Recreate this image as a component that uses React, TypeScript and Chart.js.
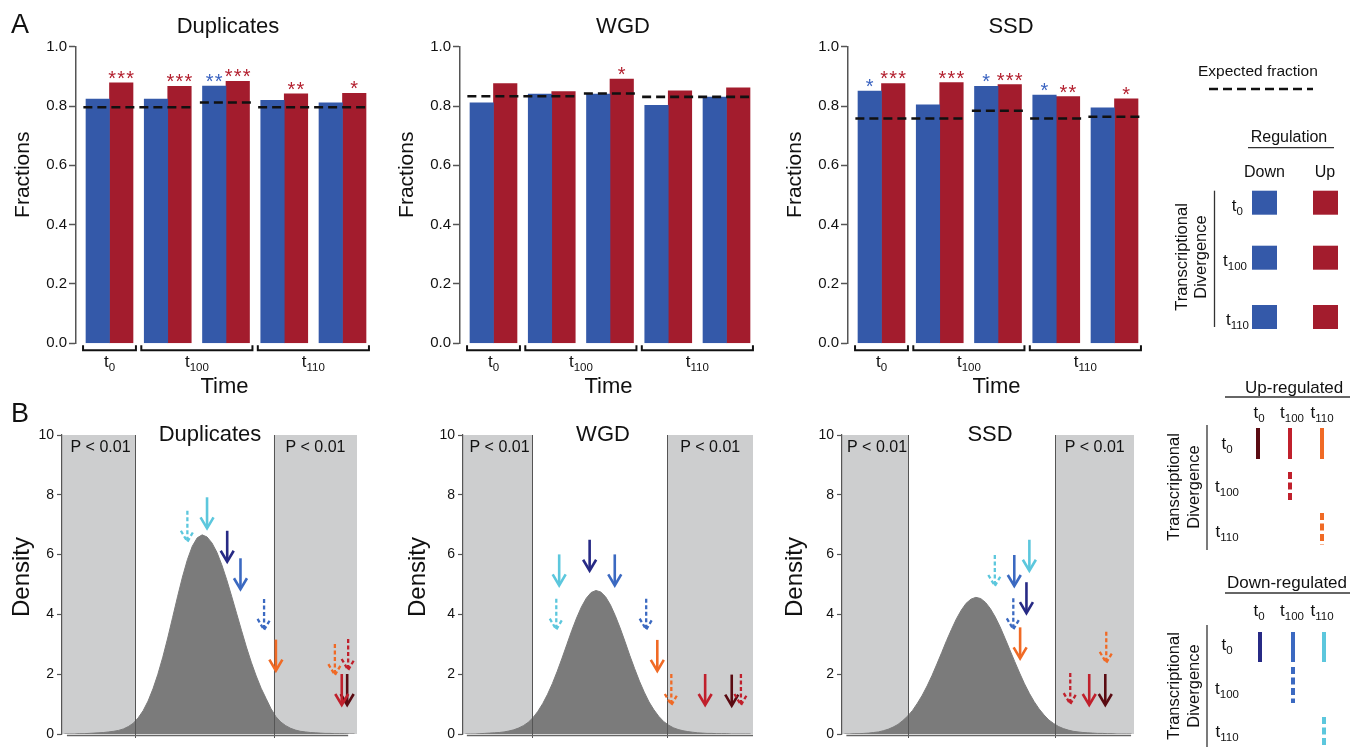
import React, { useEffect, useRef } from 'react';
import { Chart, registerables } from 'chart.js';

Chart.register(...registerables);

const FONT = '"Liberation Sans", Arial, Helvetica, sans-serif';
Chart.defaults.font.family = FONT;

// ---------------- Panel A data ----------------
const groupPositions = [0, 1, 2, 3, 4];
const timeSubscripts = ['0', '100', '110'];
const timeFirstGroup = [0, 1, 3];
const timeLastGroup = [0, 2, 4];

const dupDown = [0.823, 0.823, 0.867, 0.819, 0.811];
const dupUp = [0.878, 0.866, 0.883, 0.841, 0.843];
const dupExpected = [0.796, 0.796, 0.812, 0.796, 0.796];
const dupStarsDown = ['', '', '**', '', ''];
const dupStarsUp = ['***', '***', '***', '**', '*'];

const wgdDown = [0.811, 0.84, 0.84, 0.802, 0.83];
const wgdUp = [0.876, 0.849, 0.891, 0.851, 0.861];
const wgdExpected = [0.833, 0.833, 0.842, 0.831, 0.831];
const wgdStarsDown = ['', '', '', '', ''];
const wgdStarsUp = ['', '', '*', '', ''];

const ssdDown = [0.85, 0.804, 0.866, 0.837, 0.794];
const ssdUp = [0.876, 0.879, 0.872, 0.832, 0.824];
const ssdExpected = [0.758, 0.758, 0.784, 0.758, 0.764];
const ssdStarsDown = ['*', '', '*', '*', ''];
const ssdStarsUp = ['***', '***', '***', '**', '*'];

// ---------------- Panel B data ----------------
const binCount = 60;
const dupDensity = [
  0, 0, 0, 0.01, 0.01, 0.02, 0.03, 0.04, 0.05, 0.07,
  0.09, 0.12, 0.17, 0.25, 0.36, 0.54, 0.78, 1.1, 1.51, 2.0,
  2.57, 3.21, 3.9, 4.59, 5.25, 5.83, 6.28, 6.56, 6.66, 6.59,
  6.39, 6.08, 5.66, 5.16, 4.61, 4.04, 3.47, 2.91, 2.4, 1.94,
  1.53, 1.19, 0.85, 0.58, 0.4, 0.28, 0.19, 0.13, 0.09, 0.07,
  0.05, 0.04, 0.03, 0.02, 0.02, 0.01, 0.01, 0.01, 0, 0,
];
const wgdDensity = [
  0, 0, 0, 0.01, 0.02, 0.03, 0.04, 0.05, 0.07, 0.1,
  0.14, 0.2, 0.28, 0.39, 0.55, 0.76, 1.02, 1.33, 1.69, 2.1,
  2.54, 3.0, 3.46, 3.88, 4.25, 4.54, 4.73, 4.8, 4.75, 4.59,
  4.32, 3.96, 3.55, 3.1, 2.63, 2.19, 1.77, 1.4, 1.07, 0.81,
  0.59, 0.42, 0.3, 0.21, 0.15, 0.11, 0.08, 0.06, 0.04, 0.03,
  0.02, 0.02, 0.01, 0.01, 0.01, 0, 0, 0, 0, 0,
];
const ssdDensity = [
  0, 0, 0.01, 0.01, 0.02, 0.03, 0.05, 0.07, 0.11, 0.16,
  0.23, 0.32, 0.45, 0.6, 0.79, 1.03, 1.3, 1.61, 1.96, 2.34,
  2.73, 3.13, 3.5, 3.85, 4.14, 4.37, 4.51, 4.57, 4.53, 4.4,
  4.19, 3.91, 3.58, 3.2, 2.81, 2.42, 2.04, 1.68, 1.36, 1.08,
  0.84, 0.64, 0.47, 0.35, 0.25, 0.18, 0.13, 0.09, 0.07, 0.05,
  0.04, 0.03, 0.02, 0.02, 0.01, 0.01, 0, 0, 0, 0,
];
const dupCritical = [14.85, 43.1];
const wgdCritical = [14.28, 42.3];
const ssdCritical = [13.57, 43.83];

// arrow kinds: up t0/t0, up t0/t100, up t0/t110, up t100/t100, up t110/t110,
//              down t0/t0, down t0/t100, down t0/t110, down t100/t100, down t110/t110
const dupArrowX = [58.0, 56.9, 43.5, 58.2, 55.5, 33.6, 36.3, 29.5, 41.1, 25.5];
const dupArrowY = [0.97, 0.97, 2.12, 2.14, 1.97, 5.76, 4.84, 6.88, 3.48, 6.43];
const wgdArrowX = [55.6, 50.1, 40.2, 57.5, 43.1, 26.2, 31.4, 19.9, 37.9, 19.3];
const wgdArrowY = [0.95, 0.97, 2.11, 0.97, 0.97, 5.46, 4.97, 4.97, 3.49, 3.49];
const ssdArrowX = [54.1, 50.8, 36.6, 46.9, 54.3, 37.9, 35.4, 38.5, 35.2, 31.4];
const ssdArrowY = [0.97, 0.97, 2.53, 1.0, 2.38, 4.04, 4.95, 5.46, 3.5, 4.95];

// ---------------- styles ----------------
const BLUE = '#3459a9';
const RED = '#a31c2d';
const STAR_BLUE = '#3a63c0';
const STAR_RED = '#b3202f';
const GRAY_REGION = '#cdcecf';
const HIST = '#7b7b7b';
const TEXT = '#111';
const MAROON = '#5a0b12';
const ARROW_RED = '#c0202c';
const ORANGE = '#f06a25';
const NAVY = '#272a85';
const ARROW_BLUE = '#3b69c1';
const CYAN = '#5cc7dd';
const arrowColors = [MAROON, ARROW_RED, ORANGE, ARROW_RED, ORANGE, NAVY, ARROW_BLUE, CYAN, ARROW_BLUE, CYAN];
const arrowDashed = [false, false, false, true, true, false, false, false, true, true];

const panelsA = [
  { title: 'Duplicates', down: dupDown, up: dupUp, expected: dupExpected, starsDown: dupStarsDown, starsUp: dupStarsUp, canvasLeft: 0, titleDx: 152 },
  { title: 'WGD', down: wgdDown, up: wgdUp, expected: wgdExpected, starsDown: wgdStarsDown, starsUp: wgdStarsUp, canvasLeft: 384, titleDx: 163 },
  { title: 'SSD', down: ssdDown, up: ssdUp, expected: ssdExpected, starsDown: ssdStarsDown, starsUp: ssdStarsUp, canvasLeft: 772, titleDx: 163 },
];

const panelsB = [
  { title: 'Duplicates', density: dupDensity, critical: dupCritical, ax: dupArrowX, ay: dupArrowY, canvasLeft: 0, width: 367, titleDx: 148, labelDx: -40, axisFrom: 1.0, axisTo: 58.2 },
  { title: 'WGD', density: wgdDensity, critical: wgdCritical, ax: wgdArrowX, ay: wgdArrowY, canvasLeft: 401, width: 362, titleDx: 140, labelDx: -45, axisFrom: 0.8, axisTo: 60.0 },
  { title: 'SSD', density: ssdDensity, critical: ssdCritical, ax: ssdArrowX, ay: ssdArrowY, canvasLeft: 780, width: 364, titleDx: 148, labelDx: -47, axisFrom: 0.9, axisTo: 59.4 },
];

function drawTSub(ctx: CanvasRenderingContext2D, sub: string, cx: number, baseline: number, big: number, small: number) {
  ctx.font = `${big}px ${FONT}`;
  const w1 = ctx.measureText('t').width;
  ctx.font = `${small}px ${FONT}`;
  const w2 = ctx.measureText(sub).width;
  const x0 = cx - (w1 + w2) / 2;
  ctx.textAlign = 'left';
  ctx.textBaseline = 'alphabetic';
  ctx.font = `${big}px ${FONT}`;
  ctx.fillText('t', x0, baseline);
  ctx.font = `${small}px ${FONT}`;
  ctx.fillText(sub, x0 + w1, baseline + 4);
}

const annotateBars = (p: any) => ({
  id: 'annotateBars',
  afterDraw(chart: any) {
    const { ctx, chartArea: ca, scales } = chart;
    const xs = scales.x;
    const ys = scales.y;
    const step = xs.getPixelForValue(1) - xs.getPixelForValue(0);
    ctx.save();
    // expected fraction
    ctx.strokeStyle = TEXT;
    ctx.lineWidth = 2.6;
    ctx.setLineDash([9, 5]);
    let i = 0;
    while (i < p.expected.length) {
      let j = i;
      while (j + 1 < p.expected.length && p.expected[j + 1] === p.expected[i]) j++;
      const yv = ys.getPixelForValue(p.expected[i]);
      ctx.beginPath();
      ctx.moveTo(xs.getPixelForValue(groupPositions[i]) - step / 2 + 3, yv);
      ctx.lineTo(xs.getPixelForValue(groupPositions[j]) + step / 2 - 2, yv);
      ctx.stroke();
      i = j + 1;
    }
    ctx.setLineDash([]);
    // stars
    ctx.font = `20px ${FONT}`;
    ctx.textAlign = 'center';
    ctx.textBaseline = 'alphabetic';
    const starSets: any[] = [[0, p.starsDown, STAR_BLUE], [1, p.starsUp, STAR_RED]];
    starSets.forEach(([di, stars, color]) => {
      const meta = chart.getDatasetMeta(di);
      meta.data.forEach((bar: any, k: number) => {
        const s = stars[k];
        if (!s) return;
        ctx.fillStyle = color;
        for (let m = 0; m < s.length; m++) {
          ctx.fillText('*', bar.x + (m - (s.length - 1) / 2) * 9, bar.y + 2);
        }
      });
    });
    // brackets
    ctx.strokeStyle = TEXT;
    ctx.fillStyle = TEXT;
    ctx.lineWidth = 2;
    const half = step * 0.805 / 2;
    const yb = ca.bottom + 7;
    timeSubscripts.forEach((sub, k) => {
      const c0 = xs.getPixelForValue(groupPositions[timeFirstGroup[k]]);
      const c1 = xs.getPixelForValue(groupPositions[timeLastGroup[k]]);
      const x0 = c0 - half - 3;
      const x1 = c1 + half + 3;
      ctx.beginPath();
      ctx.moveTo(x0, yb - 5);
      ctx.lineTo(x0, yb);
      ctx.lineTo(x1, yb);
      ctx.lineTo(x1, yb - 5);
      ctx.stroke();
      drawTSub(ctx, sub, (c0 + c1) / 2, ca.bottom + 24, 17, 11.5);
    });
    // axis title Time
    ctx.font = `22px ${FONT}`;
    ctx.textAlign = 'center';
    ctx.textBaseline = 'alphabetic';
    ctx.fillText('Time', ca.left + 148.5, ca.bottom + 50);
    // title
    ctx.fillText(p.title, ca.left + p.titleDx, ca.top - 13.5);
    // y title
    ctx.save();
    ctx.translate(ca.left - 53, ca.top + 128);
    ctx.rotate(-Math.PI / 2);
    ctx.font = `21px ${FONT}`;
    ctx.textBaseline = 'middle';
    ctx.fillText('Fractions', 0, 0);
    ctx.restore();
    ctx.restore();
  },
});

function makeBarChart(canvas: HTMLCanvasElement, p: any) {
  return new Chart(canvas, {
    type: 'bar',
    data: {
      datasets: [
        { label: 'Down', data: groupPositions.map((g, i) => ({ x: g, y: p.down[i] })), backgroundColor: BLUE, barThickness: 23.5, borderWidth: 0 },
        { label: 'Up', data: groupPositions.map((g, i) => ({ x: g, y: p.up[i] })), backgroundColor: RED, barThickness: 23.5, borderWidth: 0 },
      ],
    },
    options: {
      animation: false,
      responsive: false,
      events: [],
      layout: { padding: { top: 46.7, bottom: 56.7, left: 0, right: 14 } },
      scales: {
        x: { type: 'linear', min: -0.575, max: 4.575, display: false, offset: false },
        y: {
          min: 0,
          max: 1,
          afterFit: (s: any) => { s.width = 76; },
          ticks: { stepSize: 0.2, callback: (v: any) => Number(v).toFixed(1), color: TEXT, font: { size: 15, family: FONT }, padding: 2 },
          grid: { drawOnChartArea: false, drawTicks: true, tickLength: 7, tickColor: '#555', tickWidth: 1.5 },
          border: { color: '#555', width: 1.5 },
        },
      },
      plugins: { legend: { display: false }, tooltip: { enabled: false } },
    } as any,
    plugins: [annotateBars(p)],
  } as any);
}

const annotateHist = (p: any) => ({
  id: 'annotateHist',
  beforeDraw(chart: any) {
    const { ctx, chartArea: ca, scales } = chart;
    const x = scales.x;
    ctx.save();
    ctx.fillStyle = GRAY_REGION;
    const a = x.getPixelForValue(0);
    const b = x.getPixelForValue(p.critical[0]);
    const c = x.getPixelForValue(p.critical[1]);
    const d = x.getPixelForValue(binCount);
    ctx.fillRect(a, ca.top, b - a, ca.bottom - ca.top);
    ctx.fillRect(c, ca.top, d - c, ca.bottom - ca.top);
    ctx.restore();
  },
  afterDraw(chart: any) {
    const { ctx, chartArea: ca, scales } = chart;
    const x = scales.x;
    const y = scales.y;
    ctx.save();
    // critical lines
    ctx.strokeStyle = '#555';
    ctx.lineWidth = 1;
    p.critical.forEach((v: number) => {
      const px = Math.round(x.getPixelForValue(v)) + 0.5;
      ctx.beginPath();
      ctx.moveTo(px, ca.top);
      ctx.lineTo(px, ca.bottom + 4);
      ctx.stroke();
    });
    // x axis line
    ctx.strokeStyle = '#666';
    ctx.lineWidth = 1.5;
    ctx.beginPath();
    ctx.moveTo(x.getPixelForValue(p.axisFrom), ca.bottom + 1.5);
    ctx.lineTo(x.getPixelForValue(p.axisTo), ca.bottom + 1.5);
    ctx.stroke();
    // p-value labels
    ctx.fillStyle = TEXT;
    ctx.font = `16px ${FONT}`;
    ctx.textAlign = 'center';
    ctx.textBaseline = 'alphabetic';
    const l0 = x.getPixelForValue(0);
    const l1 = x.getPixelForValue(p.critical[0]);
    const r0 = x.getPixelForValue(p.critical[1]);
    const r1 = x.getPixelForValue(binCount);
    ctx.fillText('P < 0.01', (l0 + l1) / 2 + 2, ca.top + 16.7);
    ctx.fillText('P < 0.01', (r0 + r1) / 2, ca.top + 16.7);
    // title
    ctx.font = `22px ${FONT}`;
    ctx.fillText(p.title, ca.left + p.titleDx, ca.top + 6);
    // y title
    ctx.save();
    ctx.translate(ca.left + p.labelDx, ca.top + 142);
    ctx.rotate(-Math.PI / 2);
    ctx.font = `24px ${FONT}`;
    ctx.textBaseline = 'middle';
    ctx.fillText('Density', 0, 0);
    ctx.restore();
    // arrows
    p.ax.forEach((av: number, k: number) => {
      const px = x.getPixelForValue(av);
      const tip = y.getPixelForValue(p.ay[k]);
      ctx.strokeStyle = arrowColors[k];
      ctx.lineWidth = arrowDashed[k] ? 2.3 : 2.6;
      ctx.setLineDash(arrowDashed[k] ? [4, 2.5] : []);
      ctx.lineCap = 'butt';
      ctx.beginPath();
      ctx.moveTo(px, tip - 31);
      ctx.lineTo(px, tip - 1);
      ctx.stroke();
      ctx.beginPath();
      ctx.moveTo(px - 6.5, tip - 11);
      ctx.lineTo(px, tip);
      ctx.lineTo(px + 6.5, tip - 11);
      ctx.stroke();
    });
    ctx.restore();
  },
});

function makeHistChart(canvas: HTMLCanvasElement, p: any) {
  return new Chart(canvas, {
    type: 'line',
    data: {
      datasets: [
        {
          data: p.density.map((v: number, i: number) => ({ x: i + 0.5, y: v })),
          fill: 'origin',
          backgroundColor: HIST,
          borderColor: HIST,
          borderWidth: 1,
          pointRadius: 0,
          tension: 0,
        },
      ],
    },
    options: {
      animation: false,
      responsive: false,
      events: [],
      layout: { padding: { top: 35, bottom: 13, left: 0, right: 10 } },
      scales: {
        x: { type: 'linear', min: 0, max: binCount, display: false },
        y: {
          min: 0,
          max: 10,
          afterFit: (s: any) => { s.width = 62; },
          ticks: { stepSize: 2, color: TEXT, font: { size: 14, family: FONT }, padding: 3 },
          grid: { drawOnChartArea: false, drawTicks: true, tickLength: 5, tickColor: '#555', tickWidth: 1.2 },
          border: { color: '#555', width: 1.2 },
        },
      },
      plugins: { legend: { display: false }, tooltip: { enabled: false } },
    } as any,
    plugins: [annotateHist(p)],
  } as any);
}

function ChartCanvas({ left, top, width, height, build }: any) {
  const ref = useRef<HTMLCanvasElement>(null);
  useEffect(() => {
    const c = build(ref.current);
    return () => c.destroy();
  }, []);
  return <canvas ref={ref} width={width} height={height} style={{ position: 'absolute', left, top, width, height }} />;
}

function TLabel({ x, y, sub, anchor = 'middle', size = 17 }: any) {
  return (
    <text x={x} y={y} textAnchor={anchor} fontSize={size} fill={TEXT} fontFamily={FONT}>
      t<tspan fontSize={11.5} dy={4}>{sub}</tspan>
    </text>
  );
}

function RotatedPair({ cx1, cx2, cy }: any) {
  return (
    <g fontFamily={FONT} fontSize={16.5} fill={TEXT}>
      <text transform={`translate(${cx1},${cy}) rotate(-90)`} textAnchor="middle" dominantBaseline="central">Transcriptional</text>
      <text transform={`translate(${cx2},${cy}) rotate(-90)`} textAnchor="middle" dominantBaseline="central">Divergence</text>
    </g>
  );
}

function Legends() {
  const rowsTop = [190.7, 245.7, 305];
  const rowLabelRight = [1243, 1247, 1249];
  return (
    <svg width={1350} height={747} style={{ position: 'absolute', left: 0, top: 0, pointerEvents: 'none' }}>
      <g fontFamily={FONT} fill={TEXT}>
        <text x={11} y={33} fontSize={27}>A</text>
        <text x={11} y={422} fontSize={27}>B</text>
        <text x={1198} y={75.7} fontSize={15.5}>Expected fraction</text>
        <text x={1289} y={141.7} fontSize={16} textAnchor="middle">Regulation</text>
        <text x={1264.5} y={176.7} fontSize={16} textAnchor="middle">Down</text>
        <text x={1325} y={176.7} fontSize={16} textAnchor="middle">Up</text>
        <text x={1245} y={393} fontSize={17}>Up-regulated</text>
        <text x={1227} y={588} fontSize={17}>Down-regulated</text>
      </g>
      <line x1={1209} y1={89} x2={1313} y2={89} stroke={TEXT} strokeWidth={2.6} strokeDasharray="9 5" />
      <line x1={1248} y1={147.7} x2={1334} y2={147.7} stroke="#333" strokeWidth={1.3} />
      <line x1={1214.5} y1={190.7} x2={1214.5} y2={327} stroke="#333" strokeWidth={1.3} />
      {rowsTop.map((t, i) => (
        <g key={i}>
          <rect x={1252} y={t} width={25} height={24} fill={BLUE} />
          <rect x={1313} y={t} width={25} height={24} fill={RED} />
          <TLabel x={rowLabelRight[i]} y={t + 20} sub={timeSubscripts[i]} anchor="end" />
        </g>
      ))}
      <RotatedPair cx1={1181} cx2={1200} cy={257} />

      {/* Up-regulated arrow legend */}
      <line x1={1225} y1={397} x2={1350} y2={397} stroke="#333" strokeWidth={1.3} />
      <TLabel x={1259} y={418} sub="0" />
      <TLabel x={1292} y={418} sub="100" />
      <TLabel x={1322} y={418} sub="110" />
      <line x1={1207} y1={425} x2={1207} y2={550} stroke="#333" strokeWidth={1.3} />
      <TLabel x={1227} y={449} sub="0" />
      <TLabel x={1227} y={492} sub="100" />
      <TLabel x={1227} y={537} sub="110" />
      <line x1={1258} y1={428} x2={1258} y2={459} stroke={MAROON} strokeWidth={4} />
      <line x1={1290} y1={428} x2={1290} y2={459} stroke={ARROW_RED} strokeWidth={4} />
      <line x1={1322} y1={428} x2={1322} y2={459} stroke={ORANGE} strokeWidth={4} />
      <line x1={1290} y1={472} x2={1290} y2={502} stroke={ARROW_RED} strokeWidth={4} strokeDasharray="7 3.5" />
      <line x1={1322} y1={513} x2={1322} y2={545} stroke={ORANGE} strokeWidth={4} strokeDasharray="7 3.5" />
      <RotatedPair cx1={1173} cx2={1193} cy={487} />

      {/* Down-regulated arrow legend */}
      <line x1={1225} y1={593} x2={1350} y2={593} stroke="#333" strokeWidth={1.3} />
      <TLabel x={1259} y={616} sub="0" />
      <TLabel x={1292} y={616} sub="100" />
      <TLabel x={1322} y={616} sub="110" />
      <line x1={1207} y1={625} x2={1207} y2={747} stroke="#333" strokeWidth={1.3} />
      <TLabel x={1227} y={650} sub="0" />
      <TLabel x={1227} y={694} sub="100" />
      <TLabel x={1227} y={737} sub="110" />
      <line x1={1260} y1={632} x2={1260} y2={662} stroke={NAVY} strokeWidth={4} />
      <line x1={1293} y1={632} x2={1293} y2={662} stroke={ARROW_BLUE} strokeWidth={4} />
      <line x1={1324} y1={632} x2={1324} y2={662} stroke={CYAN} strokeWidth={4} />
      <line x1={1293} y1={667} x2={1293} y2={703} stroke={ARROW_BLUE} strokeWidth={4} strokeDasharray="7 3.5" />
      <line x1={1324} y1={717} x2={1324} y2={747} stroke={CYAN} strokeWidth={4} strokeDasharray="7 3.5" />
      <RotatedPair cx1={1173} cx2={1193} cy={686} />
    </svg>
  );
}

export default function App() {
  return (
    <div style={{ position: 'fixed', left: 0, top: 0, width: 1350, height: 747, background: '#fff', overflow: 'hidden' }}>
      {panelsA.map((p, i) => (
        <ChartCanvas key={'a' + i} left={p.canvasLeft} top={0} width={390} height={400} build={(c: HTMLCanvasElement) => makeBarChart(c, p)} />
      ))}
      {panelsB.map((p, i) => (
        <ChartCanvas key={'b' + i} left={p.canvasLeft} top={400} width={p.width} height={347} build={(c: HTMLCanvasElement) => makeHistChart(c, p)} />
      ))}
      <Legends />
    </div>
  );
}
